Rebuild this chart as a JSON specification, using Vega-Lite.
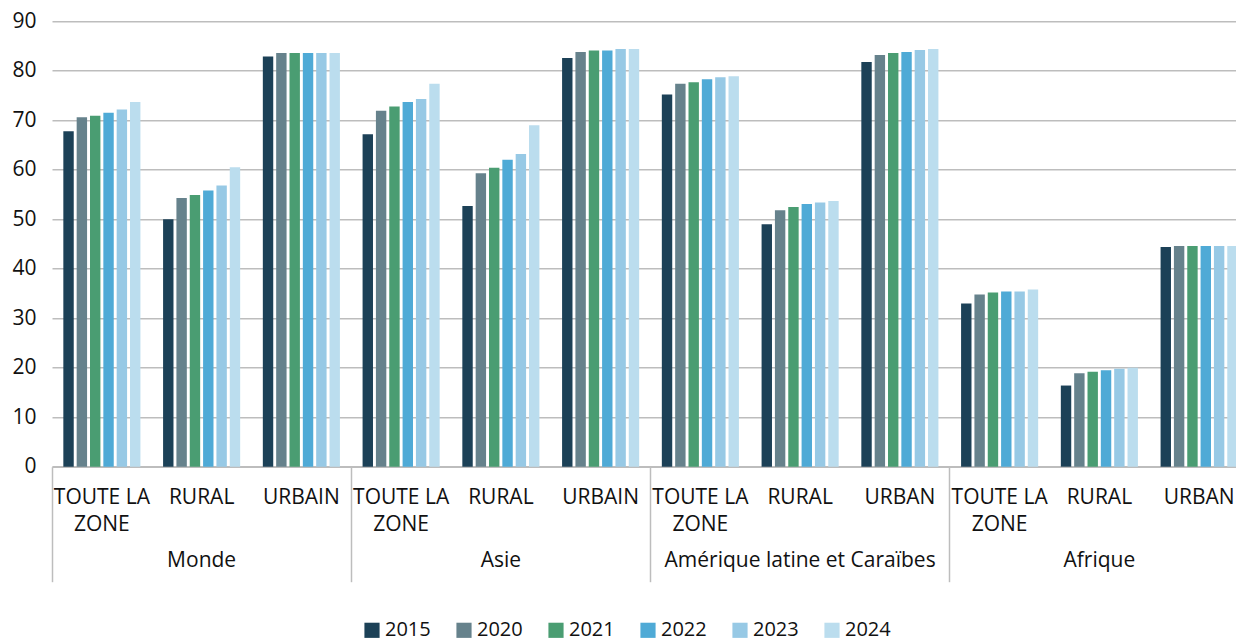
{
  "$schema": "https://vega.github.io/schema/vega-lite/v6.json",
  "autosize": {"type": "none"},
  "width": 1197,
  "height": 445.4,
  "padding": {"left": 52, "top": 21.3, "right": 0, "bottom": 174.3},
  "background": "white",
  "config": {
    "view": {"stroke": null},
    "font": "Open Sans",
    "axis": {"labelFont": "Open Sans", "labelColor": "#111111"},
    "legend": {"labelFont": "Open Sans", "labelColor": "#111111"}
  },
  "data": {
    "values": [
      {"region": "Monde", "zone": "TOUTE LA ZONE", "year": "2015", "value": 67.8},
      {"region": "Monde", "zone": "TOUTE LA ZONE", "year": "2020", "value": 70.6},
      {"region": "Monde", "zone": "TOUTE LA ZONE", "year": "2021", "value": 70.9},
      {"region": "Monde", "zone": "TOUTE LA ZONE", "year": "2022", "value": 71.5},
      {"region": "Monde", "zone": "TOUTE LA ZONE", "year": "2023", "value": 72.2},
      {"region": "Monde", "zone": "TOUTE LA ZONE", "year": "2024", "value": 73.7},
      {"region": "Monde", "zone": "RURAL", "year": "2015", "value": 50.0},
      {"region": "Monde", "zone": "RURAL", "year": "2020", "value": 54.3},
      {"region": "Monde", "zone": "RURAL", "year": "2021", "value": 54.9},
      {"region": "Monde", "zone": "RURAL", "year": "2022", "value": 55.8},
      {"region": "Monde", "zone": "RURAL", "year": "2023", "value": 56.8},
      {"region": "Monde", "zone": "RURAL", "year": "2024", "value": 60.5},
      {"region": "Monde", "zone": "URBAIN", "year": "2015", "value": 82.9},
      {"region": "Monde", "zone": "URBAIN", "year": "2020", "value": 83.6},
      {"region": "Monde", "zone": "URBAIN", "year": "2021", "value": 83.6},
      {"region": "Monde", "zone": "URBAIN", "year": "2022", "value": 83.6},
      {"region": "Monde", "zone": "URBAIN", "year": "2023", "value": 83.6},
      {"region": "Monde", "zone": "URBAIN", "year": "2024", "value": 83.6},
      {"region": "Asie", "zone": "TOUTE LA ZONE", "year": "2015", "value": 67.2},
      {"region": "Asie", "zone": "TOUTE LA ZONE", "year": "2020", "value": 71.9},
      {"region": "Asie", "zone": "TOUTE LA ZONE", "year": "2021", "value": 72.8},
      {"region": "Asie", "zone": "TOUTE LA ZONE", "year": "2022", "value": 73.7},
      {"region": "Asie", "zone": "TOUTE LA ZONE", "year": "2023", "value": 74.3},
      {"region": "Asie", "zone": "TOUTE LA ZONE", "year": "2024", "value": 77.4},
      {"region": "Asie", "zone": "RURAL", "year": "2015", "value": 52.7},
      {"region": "Asie", "zone": "RURAL", "year": "2020", "value": 59.3},
      {"region": "Asie", "zone": "RURAL", "year": "2021", "value": 60.4},
      {"region": "Asie", "zone": "RURAL", "year": "2022", "value": 62.0},
      {"region": "Asie", "zone": "RURAL", "year": "2023", "value": 63.2},
      {"region": "Asie", "zone": "RURAL", "year": "2024", "value": 69.0},
      {"region": "Asie", "zone": "URBAIN", "year": "2015", "value": 82.6},
      {"region": "Asie", "zone": "URBAIN", "year": "2020", "value": 83.8},
      {"region": "Asie", "zone": "URBAIN", "year": "2021", "value": 84.1},
      {"region": "Asie", "zone": "URBAIN", "year": "2022", "value": 84.1},
      {"region": "Asie", "zone": "URBAIN", "year": "2023", "value": 84.4},
      {"region": "Asie", "zone": "URBAIN", "year": "2024", "value": 84.4},
      {"region": "Amérique latine et Caraïbes", "zone": "TOUTE LA ZONE", "year": "2015", "value": 75.2},
      {"region": "Amérique latine et Caraïbes", "zone": "TOUTE LA ZONE", "year": "2020", "value": 77.4},
      {"region": "Amérique latine et Caraïbes", "zone": "TOUTE LA ZONE", "year": "2021", "value": 77.7},
      {"region": "Amérique latine et Caraïbes", "zone": "TOUTE LA ZONE", "year": "2022", "value": 78.3},
      {"region": "Amérique latine et Caraïbes", "zone": "TOUTE LA ZONE", "year": "2023", "value": 78.7},
      {"region": "Amérique latine et Caraïbes", "zone": "TOUTE LA ZONE", "year": "2024", "value": 78.9},
      {"region": "Amérique latine et Caraïbes", "zone": "RURAL", "year": "2015", "value": 49.0},
      {"region": "Amérique latine et Caraïbes", "zone": "RURAL", "year": "2020", "value": 51.8},
      {"region": "Amérique latine et Caraïbes", "zone": "RURAL", "year": "2021", "value": 52.5},
      {"region": "Amérique latine et Caraïbes", "zone": "RURAL", "year": "2022", "value": 53.1},
      {"region": "Amérique latine et Caraïbes", "zone": "RURAL", "year": "2023", "value": 53.4},
      {"region": "Amérique latine et Caraïbes", "zone": "RURAL", "year": "2024", "value": 53.7},
      {"region": "Amérique latine et Caraïbes", "zone": "URBAN", "year": "2015", "value": 81.8},
      {"region": "Amérique latine et Caraïbes", "zone": "URBAN", "year": "2020", "value": 83.2},
      {"region": "Amérique latine et Caraïbes", "zone": "URBAN", "year": "2021", "value": 83.6},
      {"region": "Amérique latine et Caraïbes", "zone": "URBAN", "year": "2022", "value": 83.8},
      {"region": "Amérique latine et Caraïbes", "zone": "URBAN", "year": "2023", "value": 84.2},
      {"region": "Amérique latine et Caraïbes", "zone": "URBAN", "year": "2024", "value": 84.4},
      {"region": "Afrique", "zone": "TOUTE LA ZONE", "year": "2015", "value": 33.0},
      {"region": "Afrique", "zone": "TOUTE LA ZONE", "year": "2020", "value": 34.8},
      {"region": "Afrique", "zone": "TOUTE LA ZONE", "year": "2021", "value": 35.2},
      {"region": "Afrique", "zone": "TOUTE LA ZONE", "year": "2022", "value": 35.4},
      {"region": "Afrique", "zone": "TOUTE LA ZONE", "year": "2023", "value": 35.4},
      {"region": "Afrique", "zone": "TOUTE LA ZONE", "year": "2024", "value": 35.8},
      {"region": "Afrique", "zone": "RURAL", "year": "2015", "value": 16.4},
      {"region": "Afrique", "zone": "RURAL", "year": "2020", "value": 18.9},
      {"region": "Afrique", "zone": "RURAL", "year": "2021", "value": 19.2},
      {"region": "Afrique", "zone": "RURAL", "year": "2022", "value": 19.5},
      {"region": "Afrique", "zone": "RURAL", "year": "2023", "value": 19.8},
      {"region": "Afrique", "zone": "RURAL", "year": "2024", "value": 20.0},
      {"region": "Afrique", "zone": "URBAN", "year": "2015", "value": 44.4},
      {"region": "Afrique", "zone": "URBAN", "year": "2020", "value": 44.6},
      {"region": "Afrique", "zone": "URBAN", "year": "2021", "value": 44.6},
      {"region": "Afrique", "zone": "URBAN", "year": "2022", "value": 44.6},
      {"region": "Afrique", "zone": "URBAN", "year": "2023", "value": 44.6},
      {"region": "Afrique", "zone": "URBAN", "year": "2024", "value": 44.6}
    ]
  },
  "transform": [
    {"calculate": "datum.region + '|' + datum.zone", "as": "key"}
  ],
  "layer": [
    {
      "mark": {"type": "bar"},
      "encoding": {
        "x": {
          "field": "key",
          "type": "nominal",
          "sort": null,
          "scale": {"paddingInner": 0, "paddingOuter": 0},
          "axis": {
            "orient": "bottom",
            "title": null,
            "domainColor": "#bdbdbd",
            "domainWidth": 1.5,
            "ticks": false,
            "tickSize": 0,
            "labelAngle": 0,
            "labelFontSize": 21,
            "labelPadding": 20,
            "labelLineHeight": 27,
            "labelOverlap": false,
            "labelLimit": 400,
            "labelBound": false,
            "labelExpr": "indexof(datum.value, 'TOUTE') >= 0 ? ['TOUTE LA', 'ZONE'] : split(datum.value, '|')[1]"
          }
        },
        "xOffset": {
          "field": "year",
          "type": "nominal",
          "sort": ["2015", "2020", "2021", "2022", "2023", "2024"],
          "scale": {"paddingInner": 0.22, "paddingOuter": 0.85}
        },
        "y": {
          "field": "value",
          "type": "quantitative",
          "scale": {"domain": [0, 90], "nice": false},
          "axis": {
            "title": null,
            "values": [0, 10, 20, 30, 40, 50, 60, 70, 80, 90],
            "domain": false,
            "ticks": false,
            "gridColor": "#bdbdbd",
            "gridWidth": 1.5,
            "labelFontSize": 21,
            "labelPadding": 16
          }
        },
        "color": {
          "field": "year",
          "type": "nominal",
          "scale": {
            "domain": ["2015", "2020", "2021", "2022", "2023", "2024"],
            "range": ["#1c4157", "#66828c", "#4a9d72", "#4faad6", "#97c9e5", "#bbddee"]
          },
          "legend": {
            "title": null,
            "orient": "none",
            "legendX": 310,
            "legendY": 599,
            "direction": "horizontal",
            "symbolType": "square",
            "symbolSize": 230,
            "symbolStrokeWidth": 0,
            "symbolOpacity": 1,
            "labelFontSize": 20,
            "labelOffset": 3,
            "columnPadding": 23
          }
        }
      }
    },
    {
      "mark": {"type": "rule", "opacity": 0},
      "encoding": {
        "x": {
          "field": "region",
          "type": "nominal",
          "sort": null,
          "scale": {"paddingInner": 0, "paddingOuter": 0},
          "axis": {
            "orient": "bottom",
            "title": null,
            "domain": false,
            "bandPosition": 0,
            "tickColor": "#bdbdbd",
            "tickWidth": 1.5,
            "tickSize": 115,
            "labelAngle": 0,
            "labelFontSize": 21,
            "labelPadding": -32,
            "labelOverlap": false,
            "labelLimit": 400,
            "labelBound": false
          }
        }
      }
    }
  ],
  "resolve": {"scale": {"x": "independent"}, "axis": {"x": "independent"}}
}
